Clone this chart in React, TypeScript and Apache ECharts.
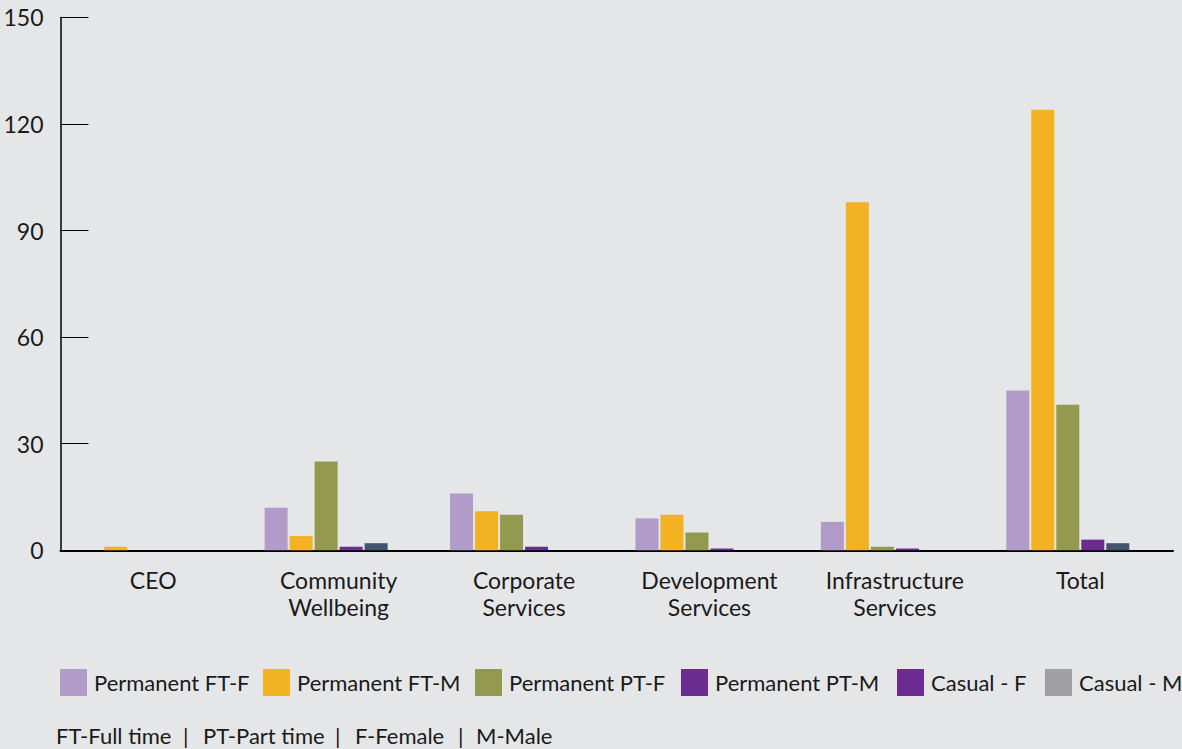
import React, { useEffect, useRef } from "react";
import * as echarts from "echarts";

const categories = ["CEO", "Community\nWellbeing", "Corporate\nServices", "Development\nServices", "Infrastructure\nServices", "Total"];
const seriesNames = ["Permanent FT-F", "Permanent FT-M", "Permanent PT-F", "Permanent PT-M", "Casual - F", "Casual - M"];
const permanentFTF = [0, 12, 16, 9, 8, 45];
const permanentFTM = [1, 4, 11, 10, 98, 124];
const permanentPTF = [0, 25, 10, 5, 1, 41];
const permanentPTM = [0, 1, 1, 0.5, 0.5, 3];
const casualF = [0, 2, 0, 0, 0, 2];
const casualM = [0, 0, 0, 0, 0, 0];
const yTicks = [0, 30, 60, 90, 120, 150];
const footnoteParts = ["FT-Full time", "|", "PT-Part time", "|", "F-Female", "|", "M-Male"];

const barColors = ["#b19cc9", "#f3b221", "#939a4f", "#6a2c91", "#45546e", "#a0a0a2"];
const legendColors = ["#b19cc9", "#f3b221", "#939a4f", "#6a2c91", "#6a2c91", "#a0a0a2"];
const legendLefts = [60, 263, 475, 681, 897, 1045];
const footnoteLefts = [56, 183, 203, 335, 355, 458, 476];

const FONT = "Lato";

export default function App() {
  const ref = useRef<HTMLDivElement>(null);
  useEffect(() => {
    if (!ref.current) return;
    const chart = echarts.init(ref.current, null, { renderer: "svg" });
    const values = [permanentFTF, permanentFTM, permanentPTF, permanentPTM, casualF, casualM];
    const option: any = {
      animation: false,
      backgroundColor: "#e5e6e8",
      textStyle: { fontFamily: FONT },
      grid: { left: 60.5, right: 9, top: 17.4, bottom: 198.7, containLabel: false },
      legend: seriesNames.map((n, i) => ({
        left: legendLefts[i],
        top: 669,
        padding: 0,
        itemWidth: 27,
        itemHeight: 27,
        itemGap: 6,
        icon: "rect",
        selectedMode: false,
        textStyle: { fontFamily: FONT, fontSize: 22, color: "#1a1a1a", padding: [0, 0, 0, 2] },
        data: [{ name: n, itemStyle: { color: legendColors[i] } }],
      })),
      xAxis: {
        type: "category",
        data: categories,
        axisLine: { lineStyle: { color: "#000", width: 2 } },
        axisTick: { inside: true, length: 13, lineStyle: { color: "#000", width: 1.5 } },
        axisLabel: { fontFamily: FONT, fontSize: 23, color: "#1a1a1a", margin: 16, lineHeight: 27 },
      },
      yAxis: {
        type: "value",
        min: yTicks[0],
        max: yTicks[yTicks.length - 1],
        interval: 30,
        splitLine: { show: false },
        axisLine: { show: true, lineStyle: { color: "#000", width: 1.5 } },
        axisTick: { show: true, inside: true, length: 28, lineStyle: { color: "#000", width: 1 } },
        axisLabel: { fontFamily: FONT, fontSize: 23, color: "#1a1a1a", margin: 17 },
      },
      series: seriesNames.map((n, i) => ({
        name: n,
        type: "bar",
        data: values[i],
        barWidth: 23,
        barGap: "8.7%",
        itemStyle: { color: barColors[i] },
      })),
      graphic: footnoteParts.map((t, i) => ({
        type: "text",
        left: footnoteLefts[i],
        top: 724,
        style: { text: t, fontFamily: FONT, fontSize: 22, fill: "#1a1a1a" },
      })),
    };
    chart.setOption(option);
    return () => chart.dispose();
  }, []);
  return <div ref={ref} style={{ width: 1182, height: 749, position: "fixed", left: 0, top: 0 }} />;
}
